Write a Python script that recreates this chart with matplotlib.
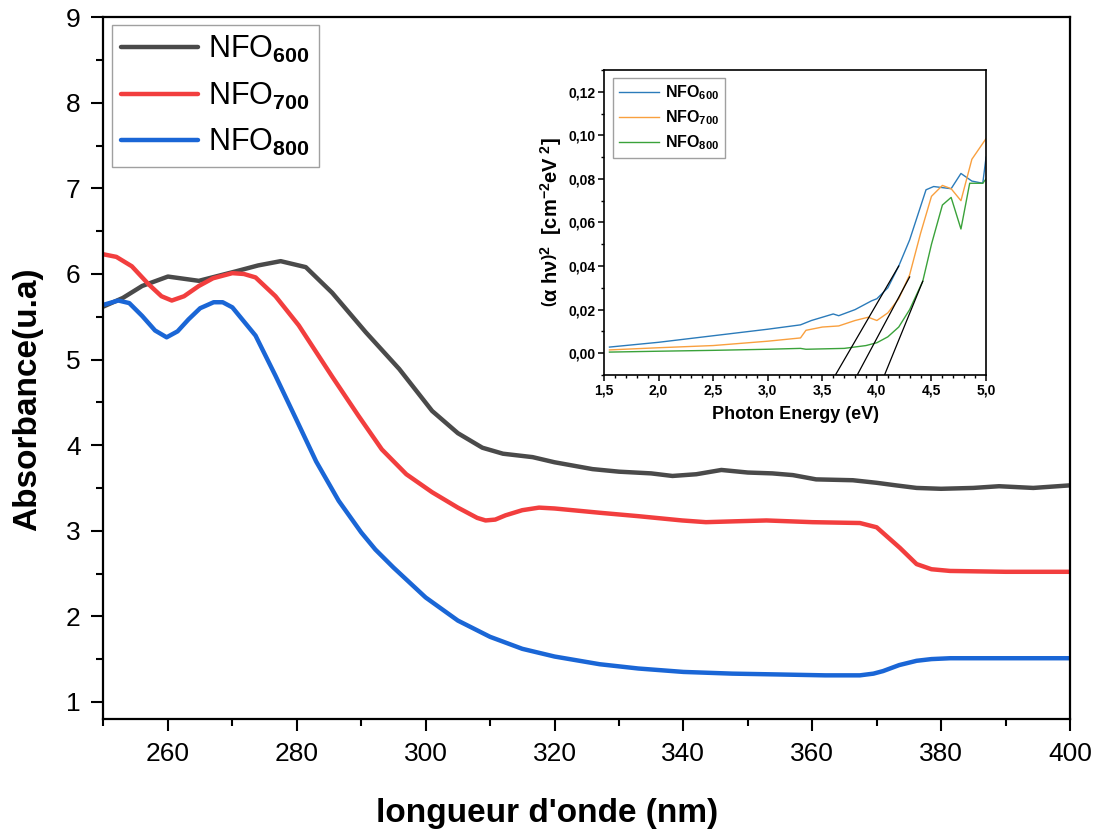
import matplotlib
matplotlib.use('Agg')
import matplotlib.pyplot as plt
from matplotlib.ticker import MultipleLocator, FuncFormatter

plt.rcParams['font.family'] = ['Liberation Sans', 'DejaVu Sans']
plt.rcParams['mathtext.fontset'] = 'custom'
plt.rcParams['mathtext.rm'] = 'Liberation Sans:bold'
plt.rcParams['mathtext.bf'] = 'Liberation Sans:bold'
plt.rcParams['mathtext.it'] = 'Liberation Sans:bold'

# main spectra (wavelength nm, absorbance)
wl_600 = [250, 253, 256, 260, 264.8, 270.5, 274, 277.5, 281.4, 285.5, 290.7, 295.9, 301, 305, 308.8,
          312, 316.6, 320, 325.9, 330, 335, 338.3, 342, 345.9, 350, 353.8, 357, 360.6, 366.3, 370,
          373, 376.2, 380, 385, 389, 394.3, 400]
ab_600 = [5.62, 5.72, 5.86, 5.97, 5.92, 6.03, 6.10, 6.15, 6.08, 5.78, 5.32, 4.89, 4.40, 4.14, 3.97,
          3.90, 3.86, 3.80, 3.72, 3.69, 3.67, 3.64, 3.66, 3.71, 3.68, 3.67, 3.65, 3.60, 3.59, 3.56,
          3.53, 3.50, 3.49, 3.50, 3.52, 3.50, 3.53]

wl_700 = [250, 252, 254.4, 257, 259, 260.6, 262.5, 264.8, 267, 270, 271.8, 273.6, 276.7, 280.3, 285.5,
          289.6, 293.2, 297, 301, 305, 308, 309.3, 310.8, 312.4, 315, 317.6, 320, 327, 333, 339.8,
          343.5, 348, 352.9, 360, 367.4, 370, 373.6, 376.2, 378.5, 381.4, 390, 400]
ab_700 = [6.23, 6.20, 6.09, 5.88, 5.74, 5.69, 5.74, 5.86, 5.95, 6.01, 6.00, 5.96, 5.74, 5.40, 4.80,
          4.34, 3.95, 3.66, 3.45, 3.27, 3.15, 3.12, 3.13, 3.18, 3.24, 3.27, 3.26, 3.21, 3.17, 3.12,
          3.10, 3.11, 3.12, 3.10, 3.09, 3.04, 2.80, 2.61, 2.55, 2.53, 2.52, 2.52]

wl_800 = [250, 252.3, 254, 256, 258, 259.8, 261.5, 263.2, 265, 267.1, 268.5, 270, 273.6, 276.7, 279.8,
          283, 286.5, 290, 292.2, 295, 300, 305, 310, 315, 320, 327, 333, 340, 347.6, 355,
          362, 367.4, 369.5, 371, 373.5, 376.2, 378.5, 381.4, 390, 400]
ab_800 = [5.64, 5.69, 5.66, 5.51, 5.34, 5.26, 5.33, 5.47, 5.60, 5.67, 5.67, 5.61, 5.28, 4.81, 4.32,
          3.81, 3.35, 2.98, 2.78, 2.57, 2.22, 1.95, 1.76, 1.62, 1.53, 1.44, 1.39, 1.35, 1.33, 1.32,
          1.31, 1.31, 1.33, 1.36, 1.43, 1.48, 1.50, 1.51, 1.51, 1.51]

# inset: Tauc plot
e_600 = [1.55, 2.0, 2.5, 3.0, 3.3, 3.4, 3.5, 3.6, 3.65, 3.8, 3.95, 4.0, 4.1, 4.2, 4.3, 4.45,
         4.52, 4.6, 4.68, 4.77, 4.87, 4.97, 5.0]
t_600 = [0.0028, 0.005, 0.008, 0.011, 0.013, 0.015, 0.0165, 0.018, 0.0172, 0.020, 0.024, 0.025,
         0.030, 0.040, 0.052, 0.075, 0.0765, 0.076, 0.0755, 0.0825, 0.079, 0.078, 0.090]
e_700 = [1.55, 2.0, 2.5, 3.0, 3.3, 3.35, 3.5, 3.65, 3.8, 3.92, 4.0, 4.1, 4.2, 4.3, 4.4, 4.5,
         4.6, 4.68, 4.77, 4.87, 5.0]
t_700 = [0.0015, 0.0025, 0.0035, 0.0055, 0.007, 0.0105, 0.012, 0.0125, 0.015, 0.0165, 0.015,
         0.0185, 0.025, 0.036, 0.055, 0.072, 0.077, 0.0755, 0.070, 0.089, 0.0985]
e_800 = [1.55, 2.0, 2.5, 3.0, 3.3, 3.35, 3.7, 3.9, 4.0, 4.1, 4.2, 4.3, 4.42, 4.5, 4.6, 4.68,
         4.77, 4.85, 4.97, 5.0]
t_800 = [0.0005, 0.0009, 0.0013, 0.0018, 0.0022, 0.0018, 0.0022, 0.0035, 0.0048, 0.0075, 0.012,
         0.020, 0.033, 0.050, 0.068, 0.0715, 0.057, 0.078, 0.078, 0.080]

# tangent lines (start/end points)
tangents = [((3.62, -0.01), (4.20, 0.040)),
            ((3.82, -0.01), (4.30, 0.035)),
            ((4.07, -0.01), (4.42, 0.033))]

labels = ['NFO$_{600}$', 'NFO$_{700}$', 'NFO$_{800}$']
main_colors = ['#4a4a4a', '#f23e3e', '#1a66d6']
inset_colors = ['#2b7bba', '#f9a03f', '#3aa23a']

fig = plt.figure(figsize=(11.01, 8.34), dpi=100)
ax = fig.add_axes([0.094, 0.1379, 0.8778, 0.8414])

for x, y, c, lab in zip([wl_600, wl_700, wl_800], [ab_600, ab_700, ab_800], main_colors, labels):
    ax.plot(x, y, color=c, lw=3.2, label=lab, solid_joinstyle='round', solid_capstyle='round')

ax.set_xlim(250, 400)
ax.set_ylim(0.8, 9)
ax.xaxis.set_minor_locator(MultipleLocator(10))
ax.yaxis.set_minor_locator(MultipleLocator(0.5))
ax.set_xticks([260, 280, 300, 320, 340, 360, 380, 400])
ax.set_yticks([1, 2, 3, 4, 5, 6, 7, 8, 9])
ax.tick_params(which='major', direction='out', length=8.5, width=1.5, labelsize=19, pad=8)
ax.tick_params(which='minor', direction='out', length=5, width=1.5)
for s in ax.spines.values():
    s.set_linewidth(1.6)
ax.set_xlabel("longueur d'onde (nm)", fontsize=24, fontweight='bold')
ax.xaxis.set_label_coords(0.459, -0.113)
ax.set_ylabel('Absorbance(u.a)', fontsize=24, fontweight='bold')
ax.yaxis.set_label_coords(-0.062, 0.456)

leg = ax.legend(loc='upper left', bbox_to_anchor=(0.0088, 0.989), fontsize=22, frameon=True,
                fancybox=False, edgecolor='#888888', handlelength=2.5, handletextpad=0.35,
                borderpad=0.3, labelspacing=0.5, borderaxespad=0.0)
leg.get_frame().set_linewidth(1.0)

# inset
ins = fig.add_axes([0.5486, 0.5504, 0.347, 0.3657])
for x, y, c, lab in zip([e_600, e_700, e_800], [t_600, t_700, t_800], inset_colors, labels):
    ins.plot(x, y, color=c, lw=1.0, label=lab)
for (x0, y0), (x1, y1) in tangents:
    ins.plot([x0, x1], [y0, y1], color='black', lw=0.9)

ins.set_xlim(1.5, 5.0)
ins.set_ylim(-0.01, 0.13)
ins.xaxis.set_major_locator(MultipleLocator(0.5))
ins.xaxis.set_minor_locator(MultipleLocator(0.1))
ins.yaxis.set_minor_locator(MultipleLocator(0.01))
ins.set_yticks([0.0, 0.02, 0.04, 0.06, 0.08, 0.10, 0.12])
ins.xaxis.set_major_formatter(FuncFormatter(lambda v, p: f'{v:.1f}'.replace('.', ',')))
ins.yaxis.set_major_formatter(FuncFormatter(lambda v, p: f'{v:.2f}'.replace('.', ',')))
ins.tick_params(which='major', direction='out', length=4, width=1.1, labelsize=10, pad=2)
ins.tick_params(which='minor', direction='out', length=2, width=1.0)
for t in ins.get_xticklabels() + ins.get_yticklabels():
    t.set_fontweight('bold')
for s in ins.spines.values():
    s.set_linewidth(1.2)
ins.set_xlabel('Photon Energy (eV)', fontsize=13, fontweight='bold', labelpad=6)
ins.set_ylabel(r'$\left(\alpha\ h\nu\right)^2$  [cm$^{-2}$eV$^{\ 2}$]', fontsize=14.5,
               fontweight='bold', labelpad=3)
il = ins.legend(loc='upper left', bbox_to_anchor=(0.024, 0.975), fontsize=11.5, frameon=True,
                fancybox=False, edgecolor='#888888', handlelength=2.5, handletextpad=0.4,
                borderpad=0.35, labelspacing=0.4, borderaxespad=0.0)
for t in il.get_texts():
    t.set_fontweight('bold')

fig.savefig('out.png', dpi=100)
